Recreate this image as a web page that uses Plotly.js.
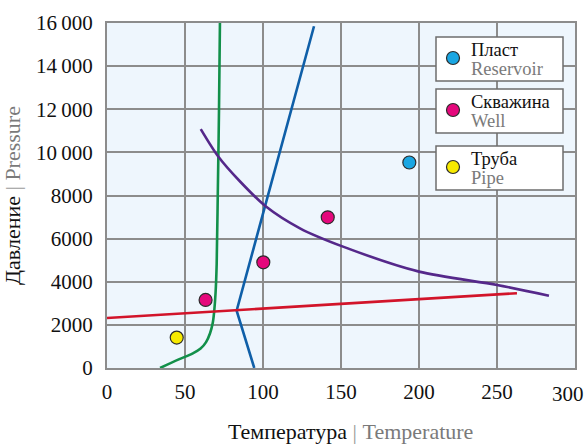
<!DOCTYPE html>
<html>
<head>
<meta charset="utf-8">
<script src="https://cdn.plot.ly/plotly-3.0.1.min.js"></script>
<style>
  html, body { margin: 0; padding: 0; background: #fff; }
  #chart { width: 588px; height: 445px; }
</style>
</head>
<body>
<div id="chart"></div>
<script>
// Pressure–temperature diagram: hydrate / phase boundaries and measured states

// Green curve
const greenT = [34, 46, 55, 60, 63.5, 66, 67.8, 68.8, 69.6, 70.3, 71, 71.8, 72.4];
const greenP = [0, 400, 680, 900, 1200, 1600, 2100, 2700, 3500, 4800, 8000, 12000, 16000];

// Blue broken line
const blueT = [94.4, 83.1, 132.7];
const blueP = [0, 2660, 15850];

// Red straight line
const redT = [0, 262.8];
const redP = [2320, 3470];

// Purple curve
const purpleT = [60.1, 71.3, 85.3, 101.9, 123.7, 151.3, 200, 250, 283.3];
const purpleP = [11080, 9810, 8650, 7490, 6480, 5630, 4470, 3850, 3355];

// Measured states
const reservoirT = [193.8];
const reservoirP = [9530];
const wellT = [63.2, 100.2, 141.5];
const wellP = [3155, 4900, 6990];
const pipeT = [44.7];
const pipeP = [1410];

// Axis ticks; the label of the last x tick is drawn separately, pulled
// left so that it stays inside the page
const xTicks = [0, 50, 100, 150, 200, 250, 300];
const xTickText = ['0', '50', '100', '150', '200', '250', ''];
const xLastLabel = '300';
const yTicks = [0, 2000, 4000, 6000, 8000, 10000, 12000, 14000, 16000];
const yTickText = ['0', '2000', '4000', '6000', '8000', '10\u2009000', '12\u2009000', '14\u2009000', '16\u2009000'];

// Legend entries: Russian name, English name, colour
const legendRu = ['Пласт', 'Скважина', 'Труба'];
const legendEn = ['Reservoir', 'Well', 'Pipe'];
const legendColors = ['#1aa6e2', '#e5087c', '#f7ea00'];

const FONT = 'Liberation Serif, DejaVu Serif, serif';
const GRID = '#8c8c8c';
const GREY_TEXT = '#7a7a7a';

// plot area in pixels, used to place the legend boxes
const M = { l: 107, r: 13, t: 23, b: 77 };
const W = 588, H = 445;
const PW = W - M.l - M.r, PH = H - M.t - M.b;
const px2x = px => (px - M.l) / PW;
const py2y = py => (H - M.b - py) / PH;

const lineTrace = (x, y, color, shape, smoothing) => ({
  x, y, type: 'scatter', mode: 'lines',
  line: { color, width: 2.6, shape: shape || 'linear', smoothing: smoothing || 1 },
  hoverinfo: 'skip', showlegend: false
});
const markerTrace = (x, y, color) => ({
  x, y, type: 'scatter', mode: 'markers',
  marker: { color, size: 13, line: { color: '#2b2b2b', width: 1.2 } },
  showlegend: false
});

const data = [
  lineTrace(greenT, greenP, '#12904a', 'spline', 1),
  lineTrace(blueT, blueP, '#0f5fa8'),
  lineTrace(redT, redP, '#d2142a'),
  lineTrace(purpleT, purpleP, '#55288a', 'spline', 0.8),
  markerTrace(reservoirT, reservoirP, legendColors[0]),
  markerTrace(wellT, wellP, legendColors[1]),
  markerTrace(pipeT, pipeP, legendColors[2])
];

// Legend boxes: top edges and height in pixels
const boxLeft = 436, boxRight = 563;
const boxTops = [37, 89, 146];
const boxH = 44;
const shapes = [];
const annotations = [];
boxTops.forEach((top, i) => {
  shapes.push({
    type: 'rect', xref: 'paper', yref: 'paper',
    x0: px2x(boxLeft), x1: px2x(boxRight), y0: py2y(top + boxH), y1: py2y(top),
    fillcolor: '#ffffff', line: { color: '#6e6e6e', width: 1.5 }, layer: 'above'
  });
  shapes.push({
    type: 'circle', xref: 'paper', yref: 'paper',
    xsizemode: 'pixel', ysizemode: 'pixel',
    xanchor: px2x(453), yanchor: py2y(top + 21),
    x0: -6.5, x1: 6.5, y0: -6.5, y1: 6.5,
    fillcolor: legendColors[i], line: { color: '#2b2b2b', width: 1.2 }, layer: 'above'
  });
  annotations.push({
    xref: 'paper', yref: 'paper', x: px2x(469), y: py2y(top + 13),
    xanchor: 'left', yanchor: 'middle', align: 'left', showarrow: false,
    text: legendRu[i], font: { family: FONT, size: 18.5, color: '#111' }
  });
  annotations.push({
    xref: 'paper', yref: 'paper', x: px2x(469), y: py2y(top + 32),
    xanchor: 'left', yanchor: 'middle', align: 'left', showarrow: false,
    text: legendEn[i], font: { family: FONT, size: 18.5, color: GREY_TEXT }
  });
});

// Last x tick label, right-aligned at the page edge
annotations.push({
  xref: 'x', yref: 'paper', x: xTicks[xTicks.length - 1], y: 0,
  xanchor: 'right', yanchor: 'top', xshift: 11, yshift: -12, showarrow: false,
  text: xLastLabel, font: { family: FONT, size: 21, color: '#111' }
});

// X-axis title
annotations.push({
  xref: 'paper', yref: 'paper', x: px2x(350), y: py2y(431),
  xanchor: 'center', yanchor: 'middle', showarrow: false,
  text: 'Температура <span style="color:#9a9a9a">|</span> <span style="color:' + GREY_TEXT + '">Temperature</span>',
  font: { family: FONT, size: 22, color: '#111' }
});

const layout = {
  width: W, height: H,
  margin: M,
  paper_bgcolor: '#ffffff',
  plot_bgcolor: '#eef6fd',
  font: { family: FONT, size: 21, color: '#111' },
  showlegend: false,
  xaxis: {
    range: [0, 300], tickvals: xTicks, ticktext: xTickText,
    showgrid: true, gridcolor: GRID, gridwidth: 2,
    zeroline: false, showline: true, mirror: true, linecolor: GRID, linewidth: 2,
    ticks: '', ticklabelstandoff: 4,
    tickfont: { family: FONT, size: 21, color: '#111' }
  },
  yaxis: {
    range: [0, 16000], tickvals: yTicks, ticktext: yTickText,
    showgrid: true, gridcolor: GRID, gridwidth: 2,
    zeroline: false, showline: true, mirror: true, linecolor: GRID, linewidth: 2,
    ticks: '', ticklabelstandoff: 8, ticklabeloverflow: 'allow',
    tickfont: { family: FONT, size: 21, color: '#111' },
    title: {
      text: 'Давление <span style="color:#9a9a9a">|</span> <span style="color:' + GREY_TEXT + '">Pressure</span>',
      font: { family: FONT, size: 22, color: '#111' }, standoff: 13
    }
  },
  shapes, annotations
};

Plotly.newPlot('chart', data, layout, { staticPlot: true, displayModeBar: false });
</script>
</body>
</html>
